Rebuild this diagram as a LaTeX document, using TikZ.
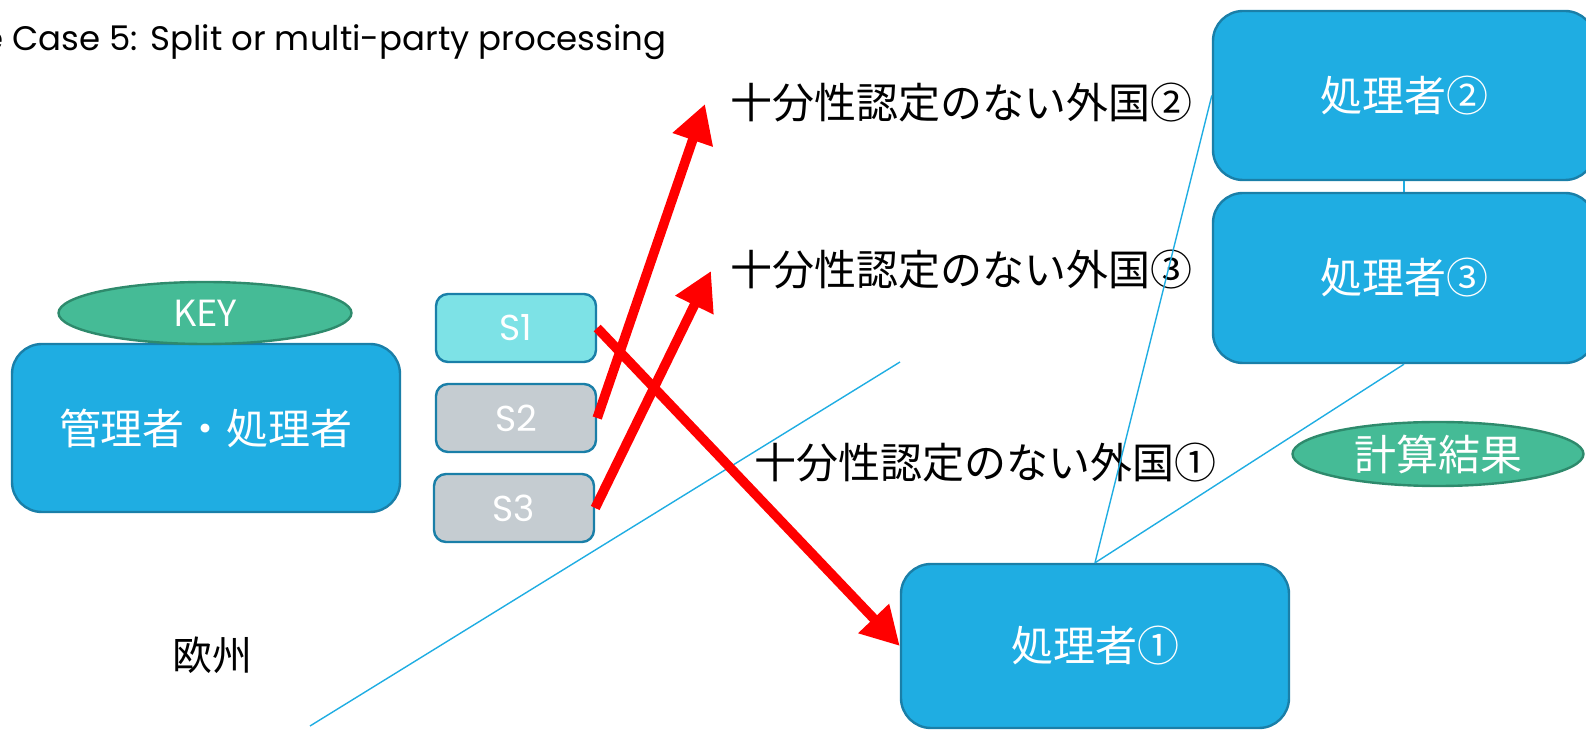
\documentclass[tikz,border=0pt]{standalone}
\usepackage{fontspec}
\setmainfont{Noto Sans CJK JP}
\newfontfamily\geofont{Poppins}
\usetikzlibrary{arrows.meta,shapes.geometric,calc}
\definecolor{boxblue}{HTML}{1FADE2}
\definecolor{boxedge}{HTML}{1A7FA8}
\definecolor{keygreen}{HTML}{45BB96}
\definecolor{keyedge}{HTML}{2E8A6C}
\definecolor{sone}{HTML}{7DE2E6}
\definecolor{sgray}{HTML}{C5CCD1}
\definecolor{thinblue}{HTML}{1FADE2}
\begin{document}
\begin{tikzpicture}[x=0.5pt,y=-0.5pt,
  proc/.style={draw=boxedge, line width=1.2pt, fill=boxblue, rounded corners=15pt, text=white,
    font={\fontsize{21pt}{25pt}\selectfont}, minimum width=194pt, minimum height=84pt, inner sep=0pt},
  share/.style={draw=boxedge, line width=1.2pt, rounded corners=6pt, minimum width=80pt,
    minimum height=34pt, text=white, inner sep=0pt, font={\geofont\fontsize{18pt}{20pt}\selectfont}},
  oval/.style={ellipse, draw=keyedge, line width=1.2pt, fill=keygreen, text=white, inner sep=0pt},
  country/.style={font={\fontsize{21pt}{25pt}\selectfont}, text=black, anchor=west, inner sep=0pt},
  thin/.style={draw=thinblue, line width=0.7pt},
  redarrow/.style={draw=red, line width=4.8pt, -{Triangle[length=19pt,width=20pt]}}
]
\useasboundingbox (0,0) rectangle (1586,731);
\clip (0,0) rectangle (1586,731);

% title
\node[anchor=east, inner sep=0pt, font={\geofont\fontsize{17pt}{20pt}\selectfont}] (title) at (667,42) {e Case 5: Split or multi-party processing};

% border line
\coordinate (b1) at (310,726);
\coordinate (b2) at (900,362);
\draw[thin] (b1) -- (b2);

% processors
\node[proc] (mgr) at (206,428) {管理者・処理者};
\node[oval, minimum width=146.5pt, minimum height=31pt, font={\fontsize{18pt}{20pt}\selectfont}] (key) at (205,313) {KEY};

\node[share, fill=sone] (s1) at (516,328) {S1};
\node[share, fill=sgray] (s2) at (516,418) {S2};
\node[share, fill=sgray] (s3) at (514,508) {S3};

\node[proc, minimum width=191pt, minimum height=84.5pt] (p2) at (1404,95.5) {処理者②};
\node[proc, minimum width=191pt, minimum height=85pt] (p3) at (1404,278) {処理者③};
\node[proc, minimum width=194pt, minimum height=82pt] (p1) at (1095,646) {処理者①};

\node[oval, minimum width=145.5pt, minimum height=32pt, font={\fontsize{21pt}{25pt}\selectfont}] (res) at (1438,454) {計算結果};

% country labels
\node[country] (c2) at (730,103) {十分性認定のない外国②};
\node[country] (c3) at (730,270) {十分性認定のない外国③};
\node[country] (c1) at (754,463) {十分性認定のない外国①};
\node[font={\fontsize{20pt}{24pt}\selectfont}, inner sep=0pt] (eu) at (212,655) {欧州};

% thin connectors
\draw[thin] (p1.north) -- (p2.west);
\draw[thin] (p1.north) -- (p3.south);
\draw[thin] (p2.south) -- (p3.north);

% red arrows
\coordinate (t2) at (705,104);
\coordinate (t3) at (711,271);
\draw[redarrow] (s1.east) -- (p1.west);
\draw[redarrow] (s2.east) -- (t2);
\draw[redarrow] (s3.east) -- (t3);
\end{tikzpicture}
\end{document}
